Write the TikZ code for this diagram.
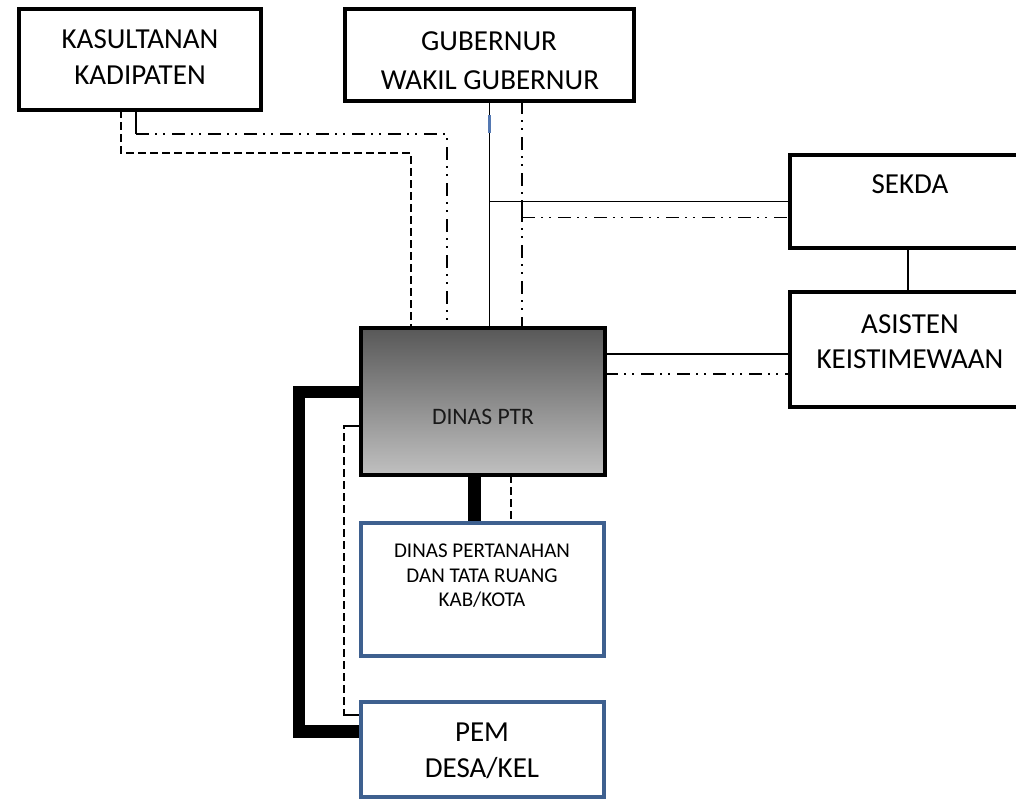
\documentclass[tikz,border=0pt]{standalone}
\usepackage{fontspec}
\setmainfont{Carlito}
\usetikzlibrary{backgrounds}
\definecolor{boxblue}{RGB}{62,96,143}
\definecolor{markblue}{RGB}{84,120,178}
\definecolor{ptrtop}{RGB}{88,88,88}
\definecolor{ptrbot}{RGB}{192,192,192}
\begin{document}
\begin{tikzpicture}[x=0.75pt,y=-0.75pt,
  blackbox/.style={draw=black,line width=3.4pt,fill=white,rectangle,inner sep=0pt,outer sep=0pt},
  bluebox/.style={draw=boxblue,line width=2.6pt,fill=white,rectangle,inner sep=0pt,outer sep=0pt},
  ptrbox/.style={draw=black,line width=3.4pt,rectangle,inner sep=0pt,outer sep=0pt,top color=ptrtop,bottom color=ptrbot},
  bigtxt/.style={anchor=base,inner sep=0pt,font=\fontsize{21.75}{27}\selectfont},
  midtxt/.style={anchor=base,inner sep=0pt,font=\fontsize{17.7}{21}\selectfont,text=black!90},
  smalltxt/.style={anchor=base,inner sep=0pt,font=\fontsize{15.75}{18.4}\selectfont},
  solidline/.style={line width=1.4pt},
  dashline/.style={line width=1.4pt,dash pattern=on 6pt off 3pt},
  ddotline/.style={line width=1.4pt,dash pattern=on 9.75pt off 4.5pt on 1.5pt off 4.5pt on 1.5pt off 5.25pt},
  heavyline/.style={line width=9.4pt,line join=miter}]
\useasboundingbox (0,0) rectangle (1016,800);

% boxes
\node[blackbox,minimum width=181.5pt,minimum height=75.75pt] (kas) at (140,59.5) {};
\node[blackbox,minimum width=216.75pt,minimum height=69pt] (gub) at (489.5,55) {};
\node[blackbox,minimum width=187.5pt,minimum height=69.75pt] (sekda) at (915,201.5) {};
\node[blackbox,minimum width=187.5pt,minimum height=86.25pt] (asisten) at (915,349.5) {};
\node[ptrbox,minimum width=183pt,minimum height=110.25pt] (ptr) at (483,401.5) {};
\node[bluebox,minimum width=182.25pt,minimum height=99.75pt] (dptr) at (482.5,589.5) {};
\node[bluebox,minimum width=182.25pt,minimum height=71.25pt] (pem) at (482.5,749.5) {};

% labels
\node[bigtxt] (kas1) at (140,48) {KASULTANAN};
\node[bigtxt] (kas2) at (140,84) {KADIPATEN};
\node[bigtxt] (gub1) at (489,50) {GUBERNUR};
\node[bigtxt] (gub2) at (490,89) {WAKIL GUBERNUR};
\node[bigtxt] (sek1) at (910,193) {SEKDA};
\node[bigtxt] (asi1) at (910,333) {ASISTEN};
\node[bigtxt] (asi2) at (910,368) {KEISTIMEWAAN};
\node[midtxt] (ptr1) at (483,424) {DINAS PTR};
\node[smalltxt] (dp1) at (482,557) {DINAS PERTANAHAN};
\node[smalltxt] (dp2) at (482,582) {DAN TATA RUANG};
\node[smalltxt] (dp3) at (482,606) {KAB/KOTA};
\node[bigtxt] (pem1) at (482,741) {PEM};
\node[bigtxt] (pem2) at (482,777) {DESA/KEL};

\begin{pgfonlayer}{background}
% Kasultanan / Kadipaten to Dinas PTR
\draw[dashline] ([shift={(102,0)}]kas.south west) -- ++(0,43) -| ([shift={(50,0)}]ptr.north west);
\draw[solidline] ([shift={(117,0)}]kas.south west) -- ++(0,24) coordinate (k2);
\draw[ddotline] (k2) -| ([shift={(86,0)}]ptr.north west);

% Gubernur to Dinas PTR and Sekda
\draw[solidline] (gub.south) -- (gub.south |- ptr.north);
\draw[line width=1.6pt,markblue] ([shift={(0,14)}]gub.south) -- ++(0,18);
\draw[solidline] (gub.south |- sekda.west) -- (sekda.west);
\draw[ddotline] ([shift={(32.5,0)}]gub.south) coordinate (g2) -- (g2 |- ptr.north);
\draw[solidline] (g2 |- sekda.west) -- ++(0,16) coordinate (g3);
\draw[ddotline] (g3) -- (g3 -| sekda.west);

% Sekda to Asisten
\draw[solidline] ([shift={(-7,0)}]sekda.south) -- ([shift={(-7,0)}]asisten.north);

% Dinas PTR to Asisten Keistimewaan
\draw[solidline] (ptr.east |- asisten.west) ++(0,4.5) -- ([shift={(0,4.5)}]asisten.west);
\draw[ddotline] (ptr.east |- asisten.west) ++(0,24.5) -- ([shift={(0,24.5)}]asisten.west);

% Dinas PTR to Pem Desa/Kel
\draw[heavyline] ([shift={(0,-9.5)}]ptr.west) -- ++(-62,0) |- ([shift={(0,-18)}]pem.west);
\draw[dashline] ([shift={(0,24.5)}]ptr.west) -- ++(-17,0) coordinate (d1) |- ([shift={(0,-34.5)}]pem.west) coordinate (d2);
\draw[solidline] ([shift={(0,24.5)}]ptr.west) -- (d1);
\draw[solidline] (d2) -- ++(-17,0);

% Dinas PTR to Dinas Pertanahan
\draw[heavyline] ([shift={(-8.5,0)}]ptr.south) coordinate (t1) -- (t1 |- dptr.north);
\draw[dashline] ([shift={(28,0)}]ptr.south) coordinate (t2) -- (t2 |- dptr.north);
\end{pgfonlayer}
\end{tikzpicture}
\end{document}
